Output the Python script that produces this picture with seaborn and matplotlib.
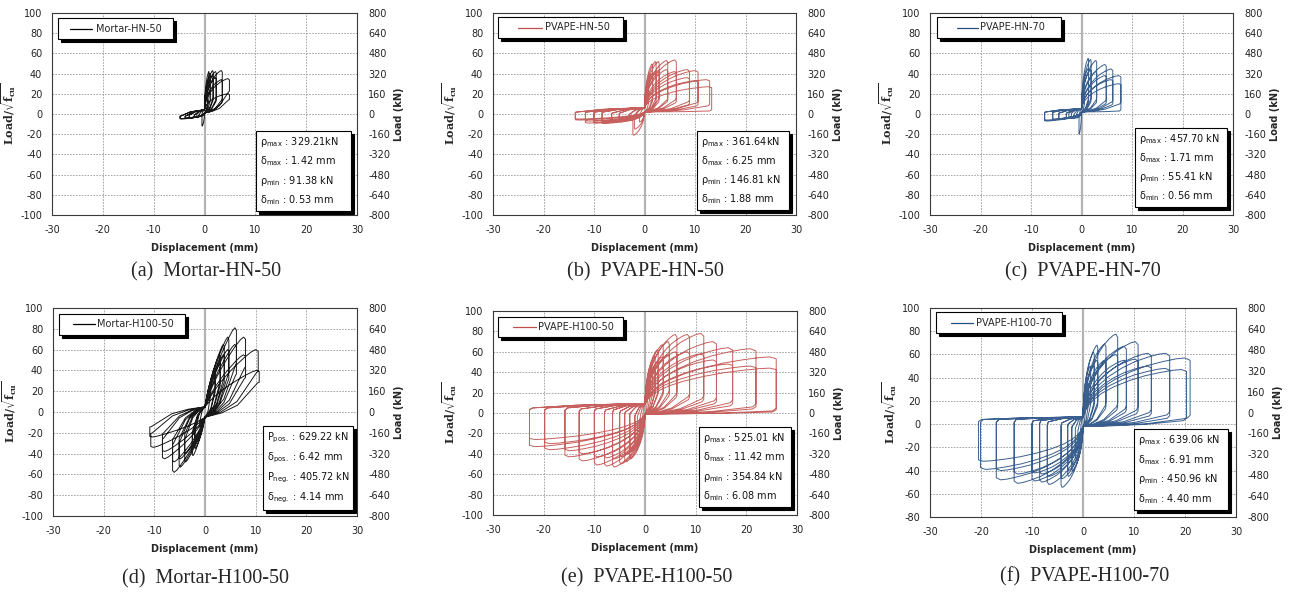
import numpy as np
import pandas as pd
import matplotlib
matplotlib.use("Agg")
import matplotlib.pyplot as plt
import seaborn as sns
from matplotlib.patches import Rectangle
from matplotlib.lines import Line2D

# ---------------- data ----------------
# (a) Mortar-HN-50
a_dpos = [0.6, 0.9, 1.2, 1.7, 1.7, 2.3, 2.3, 3.5, 3.5, 4.9, 4.9]
a_ppos = [30, 42, 40, 43, 38, 42, 36, 43, 34, 35, 20]
a_epos = [10, 15, 14, 15, 13, 14, 12, 14, 11, 22, 14]
a_dneg = [-0.5, -1.0, -1.5, -2.0, -2.0, -3.0, -3.0, -3.8, -3.8, -4.8, -4.8]
a_pneg = [-12, -2.5, -3, -3.5, -3, -4, -3.5, -4.5, -4, -5, -4.5]
a_eneg = [0, 0, 0, -1, -1, -1, -1, -2, -2, -2, -2]

# (b) PVAPE-HN-50
b_dpos = [0.8, 1.6, 1.6, 2.3, 2.3, 2.9, 2.9, 4.6, 4.6, 6.3, 6.3, 8.9, 8.9, 10.6, 10.6, 12.9, 13.3]
b_ppos = [30, 49.5, 40, 52, 42, 52, 43, 53, 44, 53.5, 42, 44, 36, 43, 33, 34, 27]
b_epos = [10, 15, 12, 15, 12, 15, 12, 14, 12, 14, 11, 12, 9, 11, 8, 8, 3]
b_dneg = [-1.0, -2.3, -2.0, -3.0, -3.0, -5.0, -5.0, -6.5, -6.5, -8.4, -8.4, -10.0, -10.0, -11.7, -11.7, -13.7, -13.7]
b_pneg = [-8, -21, -15, -6, -5, -8, -6, -8, -6, -9.5, -7, -9, -7, -9, -7, -6, -5]
b_eneg = [-2, -3, -3, 0, 0, 1, 1, 1, 1, 2, 2, 2, 2, 2, 2, 2, 2]

# (c) PVAPE-HN-70
c_dpos = [0.6, 1.4, 1.4, 1.9, 1.9, 3.0, 3.0, 4.9, 4.9, 6.2, 6.2, 7.8, 7.8]
c_ppos = [30, 55, 45, 54, 44, 53, 42, 49, 38, 44.6, 34, 38, 30]
c_epos = [10, 15, 12, 15, 12, 14, 11, 13, 10, 12, 9, 10, 3]
c_dneg = [-0.5, -1.0, -1.5, -2.0, -2.5, -3.0, -3.0, -4.5, -4.5, -5.7, -5.7, -7.3, -7.3]
c_pneg = [-20, -4, -4, -4.6, -4, -4.6, -4, -5.5, -4.5, -5.6, -5, -7, -6]
c_eneg = [-2, 0, 0, 1, 1, 1, 1, 1, 1, 2, 2, 2, 2]

# (d) Mortar-H100-50
d_dpos = [1.0, 2.0, 2.0, 3.0, 3.0, 3.8, 3.8, 4.7, 4.7, 6.2, 6.2, 8.0, 8.0, 10.5, 10.7]
d_ppos = [20, 40, 35, 55, 48, 65, 55, 72, 60, 81, 65, 72, 55, 60, 40]
d_epos = [12, 22, 18, 28, 24, 32, 27, 36, 30, 45, 35, 42, 32, 38, 28]
d_dneg = [-1.0, -2.0, -2.0, -2.5, -2.5, -4.0, -4.0, -5.1, -5.1, -6.4, -6.4, -8.4, -8.4, -10.7, -10.9]
d_pneg = [-15, -35, -30, -42, -35, -48, -40, -53, -45, -58, -48, -45, -38, -34, -24]
d_eneg = [-8, -18, -15, -22, -18, -25, -20, -28, -24, -30, -25, -25, -20, -20, -14]

# (e) PVAPE-H100-50
e_dpos = [0.5, 1.0, 1.5, 2.0, 2.0, 2.6, 2.6, 3.6, 3.6, 4.8, 4.8, 6.3, 6.3, 8.8, 8.8,
          11.6, 11.6, 14.1, 14.1, 17.3, 17.3, 21.9, 21.9, 25.9, 25.9]
e_ppos = [20, 35, 45, 55, 45, 62, 50, 67, 55, 70, 57, 77, 60, 77, 60,
          78, 58, 70, 52, 64, 48, 63, 46, 55, 44]
e_epos = [12, 15, 18, 20, 18, 20, 18, 20, 17, 20, 16, 18, 15, 16, 13,
          14, 11, 12, 9, 10, 7, 6, 4, 2, 1]
e_dneg = [-0.5, -1.0, -1.5, -2.0, -2.0, -3.0, -3.0, -4.0, -4.0, -5.0, -5.0, -6.4, -6.4, -8.0, -8.0,
          -10.0, -10.0, -13.0, -13.0, -15.8, -15.8, -19.8, -19.8, -22.8, -22.8]
e_pneg = [-10, -18, -25, -33, -28, -45, -38, -48, -41, -50, -43, -53, -45, -52, -44,
          -51, -43, -47, -40, -43, -37, -36, -30, -33, -26]
e_eneg = [-5, -5, -3, -2, -2, 0, 0, 1, 1, 2, 2, 3, 3, 3, 3,
          4, 4, 4, 4, 5, 5, 5, 5, 5, 5]

# (f) PVAPE-H100-70
f_dpos = [0.5, 1.0, 1.5, 2.2, 2.2, 2.9, 2.9, 4.5, 4.5, 6.8, 6.8, 8.5, 8.5, 10.8, 10.8,
          13.4, 13.4, 17.0, 17.0, 21.0, 20.3]
f_ppos = [20, 35, 50, 62, 50, 68, 55, 69, 55, 77.5, 60, 67, 55, 71, 56, 61, 50, 61, 48, 57, 47]
f_epos = [12, 14, 16, 18, 15, 18, 15, 16, 13, 15, 12, 13, 10, 12, 9, 10, 7, 8, 5, 5, 3]
f_dneg = [-0.5, -1.0, -1.5, -2.2, -2.2, -3.0, -3.0, -4.3, -4.3, -7.0, -7.0, -8.5, -8.5, -10.0, -10.0,
          -13.5, -13.5, -17.0, -17.0, -20.1, -20.5]
f_pneg = [-10, -20, -30, -40, -35, -45, -40, -54.5, -47, -52, -45, -50, -43, -49, -42,
          -51, -43, -48, -40, -39, -32]
f_eneg = [-5, -5, -3, -2, -2, 0, 0, 1, 1, 2, 2, 3, 3, 3, 3, 4, 4, 4, 4, 4, 4]

names = ["Mortar-HN-50", "PVAPE-HN-50", "PVAPE-HN-70",
         "Mortar-H100-50", "PVAPE-H100-50", "PVAPE-H100-70"]
captions = ["(a)  Mortar-HN-50", "(b)  PVAPE-HN-50", "(c)  PVAPE-HN-70",
            "(d)  Mortar-H100-50", "(e)  PVAPE-H100-50", "(f)  PVAPE-H100-70"]
stats = [
    [("\\rho", "max", "329.21kN"), ("\\delta", "max", "1.42 mm"), ("\\rho", "min", "91.38 kN"), ("\\delta", "min", "0.53 mm")],
    [("\\rho", "max", "361.64kN"), ("\\delta", "max", "6.25 mm"), ("\\rho", "min", "146.81 kN"), ("\\delta", "min", "1.88 mm")],
    [("\\rho", "max", "457.70 kN"), ("\\delta", "max", "1.71 mm"), ("\\rho", "min", "55.41 kN"), ("\\delta", "min", "0.56 mm")],
    [("P", "pos.", "629.22 kN"), ("\\delta", "pos.", "6.42 mm"), ("P", "neg.", "405.72 kN"), ("\\delta", "neg.", "4.14 mm")],
    [("\\rho", "max", "525.01 kN"), ("\\delta", "max", "11.42 mm"), ("\\rho", "min", "354.84 kN"), ("\\delta", "min", "6.08 mm")],
    [("\\rho", "max", "639.06 kN"), ("\\delta", "max", "6.91 mm"), ("\\rho", "min", "450.96 kN"), ("\\delta", "min", "4.40 mm")],
]
x_ticks = [-30, -20, -10, 0, 10, 20, 30]
y_ticks_full = [-100, -80, -60, -40, -20, 0, 20, 40, 60, 80, 100]
y_ticks_f = [-80, -60, -40, -20, 0, 20, 40, 60, 80, 100]
kn_ticks = [-800, -640, -480, -320, -160, 0, 160, 320, 480, 640, 800]

# ---------------- drawing style / loop template ----------------
RISE_X = [0, 0.02, 0.05, 0.1, 0.18, 0.3, 0.45, 0.6, 0.75, 0.87, 0.95, 1.0]
RISE_PINCH = [0, 0.12, 0.24, 0.36, 0.5, 0.64, 0.77, 0.87, 0.94, 0.985, 1.0, 0.96]
RISE_SPINDLE = [0, 0.04, 0.09, 0.17, 0.29, 0.44, 0.6, 0.74, 0.87, 0.96, 1.0, 0.97]


def loop_frame(dpos, ppos, epos, dneg, pneg, eneg, a, c, rise):
    xs, ys = [], []
    for i in range(len(dpos)):
        d, p, e = dpos[i], ppos[i], epos[i]
        for fx_, fy_ in zip(RISE_X, rise):
            xs.append(fx_ * d); ys.append(a + fy_ * (p - a))
        xs += [d, 0.97 * d, 0.6 * d, 0.3 * d, 0.0]
        ys += [e + 0.05 * (p - e), e, c + 0.35 * (e - c), c + 0.12 * (e - c), c]
        d, p, e = dneg[i], pneg[i], eneg[i]
        for fx_, fy_ in zip(RISE_X, rise):
            xs.append(fx_ * d); ys.append(c + fy_ * (p - c))
        xs += [d, 0.97 * d, 0.6 * d, 0.3 * d, 0.0]
        ys += [e + 0.05 * (p - e), e, a + 0.35 * (e - a), a + 0.12 * (e - a), a]
    return pd.DataFrame({"x": xs, "y": ys})


specs = [
    (a_dpos, a_ppos, a_epos, a_dneg, a_pneg, a_eneg, 4, 1, RISE_PINCH, "#000000"),
    (b_dpos, b_ppos, b_epos, b_dneg, b_pneg, b_eneg, 6, 2, RISE_PINCH, "#C0504D"),
    (c_dpos, c_ppos, c_epos, c_dneg, c_pneg, c_eneg, 5, 2, RISE_PINCH, "#254E82"),
    (d_dpos, d_ppos, d_epos, d_dneg, d_pneg, d_eneg, 5, -5, RISE_SPINDLE, "#000000"),
    (e_dpos, e_ppos, e_epos, e_dneg, e_pneg, e_eneg, 9, -1, RISE_PINCH, "#C0504D"),
    (f_dpos, f_ppos, f_epos, f_dneg, f_pneg, f_eneg, 6, -2, RISE_PINCH, "#254E82"),
]

W, H = 1289, 593
sns.set_style("white")
plt.rcParams["font.family"] = ["DejaVu Sans"]
plt.rcParams["mathtext.fontset"] = "dejavusans"
plt.rcParams["axes.unicode_minus"] = False
fig = plt.figure(figsize=(W / 100, H / 100), dpi=100)

ax_px = [(52, 13, 357, 215), (493, 13, 796, 215), (930, 13, 1233, 215),
         (53, 308, 357, 516), (493, 311, 797, 515), (930, 308, 1236, 517)]
stat_px = [(256, 131, 351, 211), (697, 131, 789, 210), (1135, 128, 1227, 207),
           (263, 426, 353, 510), (699, 427, 791, 507), (1134, 429, 1228, 510)]
leg_px = [(58, 18, 173, 39), (498, 17, 623, 38), (937, 17, 1061, 38),
          (59, 314, 185, 335), (498, 317, 623, 337), (936, 312, 1062, 333)]
leg_line = [(70, 92, 96), (518, 542, 545), (957, 978, 980),
            (73, 95, 97), (513, 536, 538), (951, 973, 976)]
cap_pos = [(206, 272), (645, 272), (1083, 272), (205, 579), (647, 578), (1085, 577)]


def fx(x):
    return x / W


def fy(y):
    return 1 - y / H


def box_with_shadow(l, t, r, b):
    fig.patches.append(Rectangle((fx(l + 3), fy(b + 3)), (r - l) / W, (b - t) / H,
                                 transform=fig.transFigure, facecolor="black",
                                 edgecolor="black", lw=0.8, zorder=5))
    fig.patches.append(Rectangle((fx(l), fy(b)), (r - l) / W, (b - t) / H,
                                 transform=fig.transFigure, facecolor="white",
                                 edgecolor="black", lw=0.8, zorder=6))


for k in range(6):
    l, t, r, b = ax_px[k]
    ax = fig.add_axes([fx(l), fy(b), (r - l) / W, (b - t) / H])
    dpos, ppos, epos, dneg, pneg, eneg, aa, cc, rise, col = specs[k]
    df = loop_frame(dpos, ppos, epos, dneg, pneg, eneg, aa, cc, rise)
    ax.axvline(0, color="#b4b4b4", lw=1.6, zorder=1)
    sns.lineplot(data=df, x="x", y="y", sort=False, estimator=None, color=col,
                 lw=0.7, alpha=0.9, ax=ax, zorder=3, label=names[k], legend=False)
    ax.set_xlim(-30, 30)
    ax.set_xticks(x_ticks)
    yt = y_ticks_f if k == 5 else y_ticks_full
    ax.set_ylim(yt[0], yt[-1])
    ax.set_yticks(yt)
    ax.grid(True, color="#9a9a9a", lw=0.6, linestyle=(0, (2, 1.5)))
    for s in ax.spines.values():
        s.set_color("#3a3a3a"); s.set_linewidth(0.8)
    ax.tick_params(length=0, labelsize=7, pad=7, colors="#222222")
    ax.set_xlabel("Displacement (mm)", fontsize=7, fontweight="bold", labelpad=6)
    ax.set_ylabel(r"Load/$\sqrt{\mathbf{f_{cu}}}$", fontsize=8, labelpad=2,
                  fontfamily="DejaVu Serif", fontweight="bold",
                  math_fontfamily="dejavuserif")
    ax2 = ax.twinx()
    ax2.set_ylim(-800, 800)
    ax2.set_yticks(kn_ticks)
    ax2.tick_params(length=0, labelsize=7, pad=8, colors="#222222")
    for s in ax2.spines.values():
        s.set_visible(False)
    ax2.set_ylabel("Load (kN)", fontsize=7, fontweight="bold", labelpad=3)

    # legend box
    ll, lt, lr, lb = leg_px[k]
    box_with_shadow(ll, lt, lr, lb)
    x0, x1, xt = leg_line[k]
    ym = (lt + lb) / 2
    fig.lines.append(Line2D([fx(x0), fx(x1)], [fy(ym), fy(ym)], transform=fig.transFigure,
                            color=col, lw=0.9, zorder=7))
    fig.text(fx(xt), fy(ym), names[k], fontsize=7, va="center", ha="left", zorder=7)

    # stats box
    sl, st, sr, sb = stat_px[k]
    box_with_shadow(sl, st, sr, sb)
    hgt = sb - st
    for j, (sym, sub, val) in enumerate(stats[k]):
        yy = st + hgt * (0.14 + 0.24 * j)
        txt = r"$\mathregular{" + sym + r"_{" + sub + r"}}$" + " : " + val
        fig.text(fx(sl + 4), fy(yy), txt, fontsize=7, va="center", ha="left",
                 zorder=7, color="#111111")

    cx, cy = cap_pos[k]
    fig.text(fx(cx), fy(cy), captions[k], fontsize=14.5, ha="center", va="center",
             fontfamily="Liberation Serif")

fig.savefig("out.png", dpi=100)
